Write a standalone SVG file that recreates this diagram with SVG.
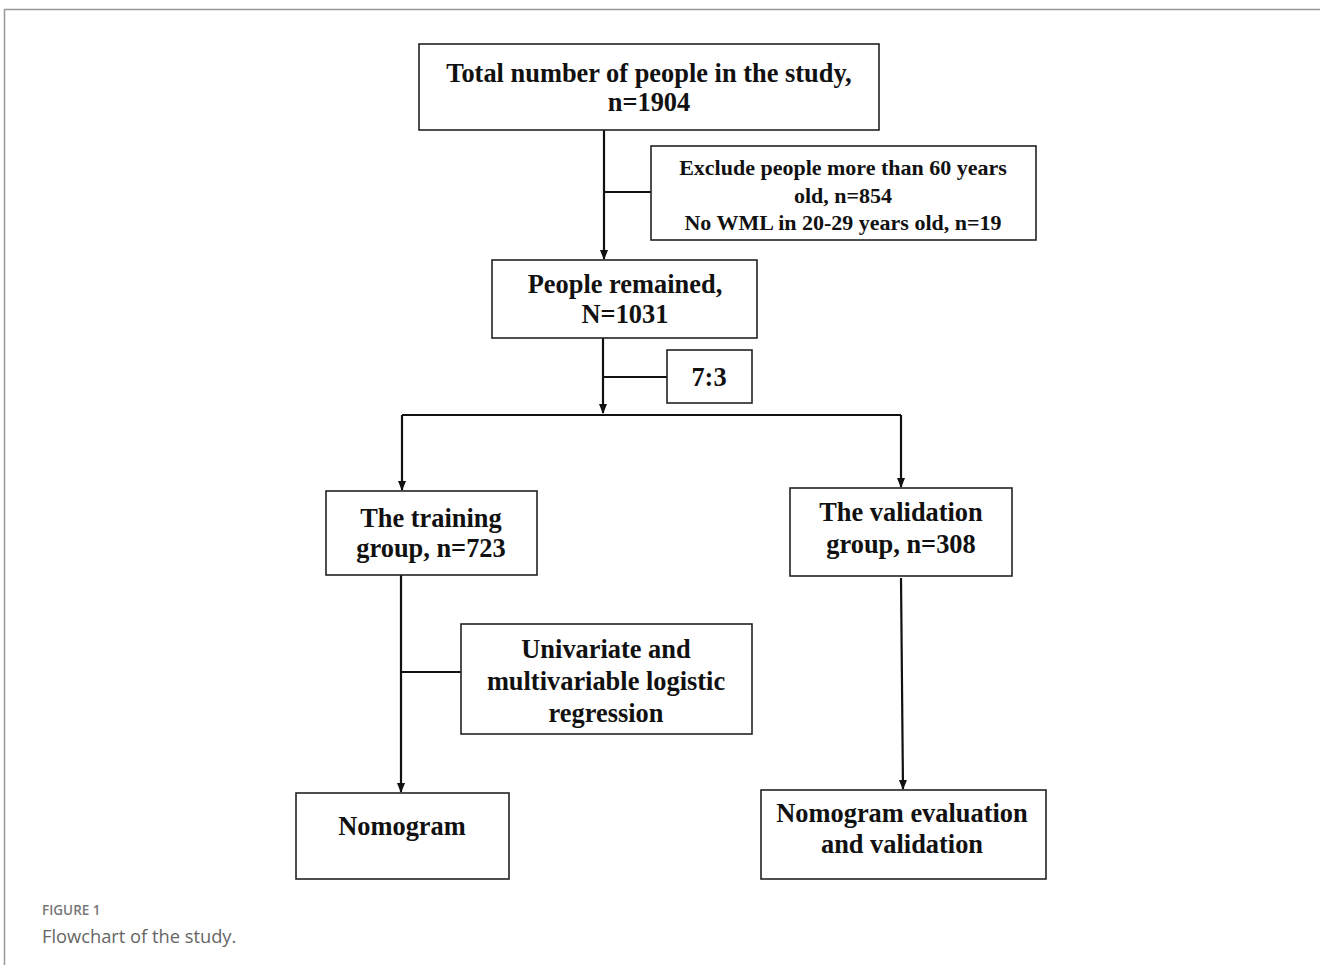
<svg xmlns="http://www.w3.org/2000/svg" width="1320" height="965" viewBox="0 0 1320 965">
<style>
.box{fill:#fff;stroke:#222;stroke-width:1.6}
.t{font-family:"Liberation Serif","Times New Roman",serif;font-weight:bold;fill:#111;text-anchor:middle;font-size:26.4px}
.s{font-size:22px}
.l{fill:none;stroke:#111;stroke-width:2.2}
.cap1{font-family:"Open Sans","Liberation Sans",sans-serif;font-size:13.5px;font-weight:600;fill:#777}
.cap2{font-family:"Open Sans","Liberation Sans",sans-serif;font-size:18.3px;fill:#666}
</style>
<defs>
<marker id="ah" markerWidth="10" markerHeight="10" refX="9" refY="5" orient="auto" markerUnits="userSpaceOnUse"><path d="M0,1 L10,5 L0,9 Z" fill="#111"/></marker>
</defs>
<rect x="0" y="0" width="1320" height="965" fill="#fff"/>
<path d="M4.5,965 V9.5 H1320" fill="none" stroke="#999" stroke-width="1.5"/>
<g id="connectors">
<path class="l" d="M604,130 V259" marker-end="url(#ah)"/>
<path class="l" d="M604,192 H651"/>
<path class="l" d="M603,338 V413" marker-end="url(#ah)"/>
<path class="l" d="M603,377 H667"/>
<path class="l" d="M402,415 H901"/>
<path class="l" d="M402,415 V490" marker-end="url(#ah)"/>
<path class="l" d="M901,415 V487" marker-end="url(#ah)"/>
<path class="l" d="M401,575 V792" marker-end="url(#ah)"/>
<path class="l" d="M401,672 H461"/>
<path class="l" d="M901,578 L903,789" marker-end="url(#ah)"/>
</g>
<g id="n1"><rect class="box" x="419" y="44" width="460" height="86"/>
<text class="t" x="649" y="82">Total number of people in the study,</text>
<text class="t" x="649" y="111">n=1904</text></g>
<g id="n2"><rect class="box" x="651" y="146" width="385" height="94"/>
<text class="t s" x="843" y="175">Exclude people more than 60 years</text>
<text class="t s" x="843" y="203">old, n=854</text>
<text class="t s" x="843" y="230">No WML in 20-29 years old, n=19</text></g>
<g id="n3"><rect class="box" x="492" y="260" width="265" height="78"/>
<text class="t" x="625" y="293">People remained,</text>
<text class="t" x="625" y="323">N=1031</text></g>
<g id="n4"><rect class="box" x="667" y="350" width="85" height="53"/>
<text class="t" x="709" y="386">7:3</text></g>
<g id="n5"><rect class="box" x="326" y="491" width="211" height="84"/>
<text class="t" x="431" y="527">The training</text>
<text class="t" x="431" y="557">group, n=723</text></g>
<g id="n6"><rect class="box" x="790" y="488" width="222" height="88"/>
<text class="t" x="901" y="521">The validation</text>
<text class="t" x="901" y="553">group, n=308</text></g>
<g id="n7"><rect class="box" x="461" y="624" width="291" height="110"/>
<text class="t" x="606" y="658">Univariate and</text>
<text class="t" x="606" y="690">multivariable logistic</text>
<text class="t" x="606" y="722">regression</text></g>
<g id="n8"><rect class="box" x="296" y="793" width="213" height="86"/>
<text class="t" x="402" y="835">Nomogram</text></g>
<g id="n9"><rect class="box" x="761" y="790" width="285" height="89"/>
<text class="t" x="902" y="822">Nomogram evaluation</text>
<text class="t" x="902" y="853">and validation</text></g>
<text class="cap1" x="42" y="915">FIGURE 1</text>
<text class="cap2" x="42" y="943">Flowchart of the study.</text>
</svg>
